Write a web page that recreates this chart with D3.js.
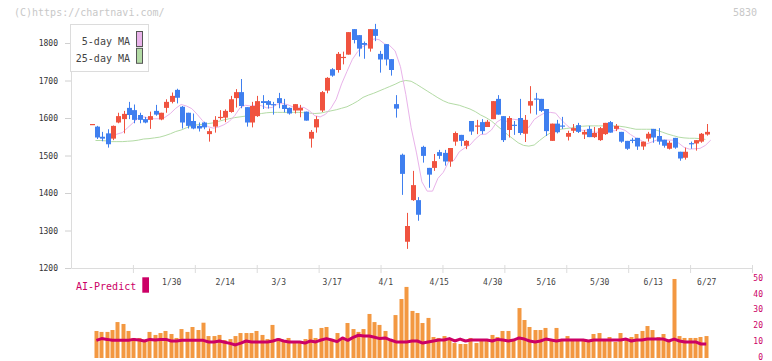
<!DOCTYPE html>
<html><head><meta charset="utf-8">
<script src="https://cdn.jsdelivr.net/npm/d3@7"></script>
<style>
body{margin:0;background:#fff}
svg{display:block}
text{font-family:"DejaVu Sans Mono","Liberation Mono",monospace}
</style>
</head><body>
<svg id="chart" width="772" height="361"></svg>
<script>
// ---- data (index 0..115 = trading days) ----
const xTickLabels = ["1/30","2/14","3/3","3/17","4/1","4/15","4/30","5/16","5/30","6/13","6/27"];
const xTickIndex  = [15,25,35,45,55,65,75,85,95,105,115];
const yTickValues = [1200,1300,1400,1500,1600,1700,1800];
const aiTickValues = [0,10,20,30,40,50];

const open = [1584,1577,1550,1559,1545,1588,1597,1627,1621,1608,1597,1595,1619,1596,1627,1643,1675,1630,1614,1592,
1579,1588,1557,1577,1601,1601,1616,1653,1669,1629,1588,1605,1645,1645,1637,1653,1635,1627,1620,1620,
1617,1545,1575,1620,1673,1730,1728,1761,1769,1837,1821,1800,1785,1837,1771,1797,1757,1637,1502,1270,
1381,1381,1523,1467,1467,1509,1507,1484,1537,1555,1526,1592,1577,1589,1576,1597,1651,1605,1568,1582,
1600,1558,1633,1652,1651,1624,1539,1585,1580,1550,1566,1581,1556,1571,1549,1541,1557,1589,1571,1563,
1539,1542,1547,1524,1545,1571,1552,1542,1518,1547,1510,1494,1533,1532,1537,1556];
const high = [1584,1579,1563,1570,1580,1614,1619,1643,1636,1614,1603,1617,1635,1614,1650,1668,1678,1632,1614,1612,
1588,1590,1572,1605,1621,1623,1659,1677,1704,1629,1643,1659,1661,1648,1643,1667,1651,1628,1637,1635,
1617,1568,1605,1672,1709,1733,1776,1777,1829,1837,1821,1804,1837,1851,1779,1797,1757,1661,1505,1347,
1459,1389,1526,1467,1504,1515,1515,1520,1564,1555,1541,1592,1595,1597,1595,1645,1661,1605,1605,1592,
1651,1608,1685,1667,1651,1624,1585,1595,1603,1566,1584,1587,1568,1579,1576,1576,1587,1592,1584,1563,
1539,1547,1547,1537,1563,1571,1573,1542,1539,1547,1510,1521,1537,1541,1560,1584];
const low = [1584,1544,1538,1521,1541,1586,1559,1597,1586,1586,1586,1571,1606,1594,1614,1639,1639,1572,1572,1570,
1564,1570,1537,1561,1595,1589,1614,1628,1626,1577,1575,1603,1624,1625,1609,1626,1615,1609,1612,1602,
1593,1521,1561,1616,1666,1710,1721,1743,1769,1799,1764,1758,1777,1805,1721,1740,1713,1601,1395,1251,
1379,1326,1481,1414,1459,1491,1473,1470,1526,1525,1517,1555,1557,1557,1576,1597,1609,1536,1548,1555,
1555,1536,1612,1609,1616,1552,1539,1559,1571,1540,1560,1560,1544,1549,1547,1539,1555,1561,1565,1534,
1515,1533,1515,1515,1537,1534,1529,1521,1516,1518,1486,1489,1518,1513,1534,1553];
const close = [1584,1548,1545,1530,1579,1605,1611,1608,1595,1595,1588,1605,1609,1614,1643,1659,1654,1588,1579,1572,
1572,1575,1565,1595,1603,1619,1650,1669,1632,1588,1632,1645,1640,1635,1634,1640,1624,1612,1637,1627,
1593,1563,1597,1669,1707,1713,1771,1763,1829,1808,1785,1795,1837,1819,1756,1756,1728,1625,1451,1312,
1421,1342,1499,1449,1485,1499,1484,1520,1560,1539,1539,1564,1580,1565,1590,1645,1609,1541,1600,1580,
1560,1595,1645,1651,1619,1565,1585,1562,1579,1560,1573,1563,1563,1549,1560,1573,1587,1561,1579,1537,
1518,1541,1524,1537,1558,1548,1537,1526,1534,1521,1492,1510,1532,1541,1558,1563];

// 5-day MA and 25-day MA (null = not drawn)
const ma5 = [null,null,null,1551,1557,1561,1574,1587,1600,1603,1599,1598,1598,1602,1612,1626,1636,1632,1625,1610,
1593,1577,1573,1576,1582,1591,1606,1627,1634,1632,1634,1633,1627,1628,1637,1639,1635,1629,1629,1628,
1619,1606,1603,1610,1626,1650,1691,1724,1756,1777,1791,1796,1811,1809,1798,1793,1779,1737,1663,1574,
1507,1430,1405,1405,1439,1455,1483,1487,1510,1520,1528,1544,1556,1557,1568,1589,1598,1590,1597,1595,
1578,1575,1596,1606,1614,1615,1613,1596,1582,1570,1572,1567,1568,1562,1562,1562,1566,1566,1572,1567,
1556,1547,1540,1531,1536,1542,1541,1541,1541,1533,1522,1517,1518,1519,1527,1541];
const ma25 = [1540,1540,1539,1537,1537,1537,1538,1539,1541,1544,1545,1547,1549,1553,1558,1564,1568,1574,1579,1582,
1583,1585,1587,1591,1595,1598,1601,1603,1605,1607,1609,1612,1614,1615,1615,1615,1615,1615,1615,1614,
1613,1612,1613,1616,1619,1622,1626,1630,1637,1645,1655,1661,1666,1672,1678,1684,1690,1697,1700,1698,
1690,1681,1672,1663,1654,1646,1640,1637,1634,1629,1624,1617,1608,1601,1592,1580,1568,1556,1545,1534,
1527,1525,1528,1540,1551,1560,1566,1570,1572,1574,1577,1578,1579,1579,1579,1579,1579,1579,1578,1576,
1573,1570,1570,1570,1570,1567,1562,1557,1553,1549,1547,1546,1546,1545,1543,null];

// AI-Predict bars and line (index 0 has none)
const aiBars = [null,17.0,16.4,16.4,17.6,22.6,21.4,17.0,12.6,12.6,11.3,16.4,14.5,15.7,17.0,15.1,12.6,18.2,16.4,19.5,
17.6,22.2,13.8,13.8,14.5,11.3,11.9,13.8,15.7,15.7,15.7,17.0,14.5,11.9,20.8,12.6,10.1,12.6,10.1,9.4,
11.9,18.2,12.6,18.9,19.5,11.3,15.7,12.6,22.0,18.2,16.4,18.2,27.7,22.6,20.8,17.0,11.3,27.0,37.1,44.7,
29.6,28.3,22.0,25.2,13.2,12.6,13.8,11.9,9.4,8.8,8.8,12.6,9.4,11.3,10.7,14.5,13.2,17.0,17.0,10.7,
31.4,23.9,19.5,17.6,17.6,18.9,11.3,18.9,11.3,13.8,11.3,11.3,11.3,10.1,15.1,15.7,11.3,13.2,10.1,15.7,
11.3,13.2,15.1,17.0,20.1,17.6,13.2,15.1,11.3,49.7,13.8,12.6,12.6,12.6,13.2,13.8];
const aiLine = [null,11.1,12.2,11.7,11.1,11.1,11.1,11.1,11.7,11.3,10.7,11.7,11.3,11.7,11.7,10.7,10.7,11.1,11.1,11.1,
11.1,11.1,10.1,10.1,10.7,9.9,9.2,8.2,9.4,10.7,10.1,10.1,10.1,10.1,10.7,11.7,10.7,10.1,10.1,10.1,
9.4,10.7,10.1,11.3,12.2,11.3,10.3,12.6,11.1,13.0,14.3,13.8,13.8,13.0,12.2,12.6,11.3,10.1,10.1,10.1,
10.7,10.7,9.4,10.1,10.7,11.3,11.3,12.2,10.7,11.9,10.7,11.3,11.3,11.3,11.3,10.7,11.7,11.3,10.7,11.3,
12.6,11.9,10.7,10.1,10.7,11.9,11.3,10.7,11.3,11.3,11.3,11.3,11.3,10.7,11.3,11.3,11.3,11.3,11.3,11.3,
11.9,10.7,11.3,11.3,11.9,11.9,11.9,11.9,10.7,11.9,10.7,10.1,10.1,10.1,8.8,8.8];

// ---- drawing ----
const svg = d3.select("#chart");
const UP = "#f0533f", DOWN = "#3f7fef";
const idx = d3.range(close.length);

const x = d3.scaleLinear().domain([0, 115]).range([91.5, 706.75]);
const y = d3.scaleLinear().domain([1200, 1850]).range([268, 24.25]);
const yAI = d3.scaleLinear().domain([0, 50]).range([358, 278.5]);
const xGrid = d3.scaleLinear().domain([0, 11]).range([71, 752]);
const maShift = 4;

// header
svg.append("text").attr("x", 14).attr("y", 15.5).attr("font-size", 10).attr("fill", "#c8c8c8")
  .text("(C)https://chartnavi.com/");
svg.append("text").attr("x", 757).attr("y", 15.5).attr("font-size", 10).attr("fill", "#c8c8c8")
  .attr("text-anchor", "end").text("5830");

// y axis
const gy = svg.append("g").attr("transform", "translate(71,0)")
  .call(d3.axisLeft(y).tickValues(yTickValues).tickSize(6).tickSizeOuter(0).tickPadding(7).tickFormat(d3.format("d")));
gy.select(".domain").attr("stroke", "#dcdcdc");
gy.selectAll(".tick line").attr("stroke", "#d0d0d0");
gy.selectAll(".tick text").attr("font-size", 8).attr("fill", "#333")
  .attr("font-family", "'DejaVu Sans Mono',monospace");

// x axis (grid ticks)
const gx = svg.append("g").attr("transform", "translate(0,268)")
  .call(d3.axisBottom(xGrid).tickValues(d3.range(1, 12)).tickSize(5).tickSizeOuter(0).tickFormat(""));
gx.select(".domain").attr("stroke", "#dcdcdc");
gx.selectAll(".tick line").attr("stroke", "#dcdcdc").attr("y1", -3);

// x labels
svg.append("g").selectAll("text").data(xTickIndex).join("text")
  .attr("x", d => x(d)).attr("y", 285).attr("text-anchor", "middle")
  .attr("font-size", 8).attr("fill", "#444").text((d, i) => xTickLabels[i]);

// moving averages
const lineGen = arr => d3.line().defined(i => arr[i] != null)
  .x(i => x(i) + maShift).y(i => y(arr[i]));
svg.append("path").attr("d", lineGen(ma25)(idx)).attr("fill", "none")
  .attr("stroke", "#b3dba5").attr("stroke-width", 1);
svg.append("path").attr("d", lineGen(ma5)(idx)).attr("fill", "none")
  .attr("stroke", "#e9b3ea").attr("stroke-width", 1);

// candles
const cg = svg.append("g");
const col = i => close[i] >= open[i] ? UP : DOWN;
cg.selectAll("line").data(idx).join("line")
  .attr("x1", i => Math.round(x(i)) + 0.5).attr("x2", i => Math.round(x(i)) + 0.5)
  .attr("y1", i => y(high[i])).attr("y2", i => y(low[i]))
  .attr("stroke", col).attr("stroke-width", 1);
cg.selectAll("rect").data(idx).join("rect")
  .attr("x", i => Math.round(x(i)) - 2).attr("width", 5)
  .attr("y", i => y(Math.max(open[i], close[i])))
  .attr("height", i => Math.max(1.2, Math.abs(y(open[i]) - y(close[i]))))
  .attr("fill", col);

// legend
const lg = svg.append("g");
lg.append("rect").attr("x", 70.5).attr("y", 24.5).attr("width", 78).attr("height", 47)
  .attr("fill", "#fff").attr("stroke", "#dcdcdc");
const legendItems = [["5-day MA", "#e9b3ea"], ["25-day MA", "#b3dba5"]];
legendItems.forEach(([label, c], k) => {
  lg.append("text").attr("x", 130).attr("y", 45 + k * 16.5).attr("text-anchor", "end")
    .attr("font-size", 10).attr("fill", "#444").text(label);
  lg.append("rect").attr("x", 136.5).attr("y", 31.5 + k * 16.8).attr("width", 6).attr("height", 15)
    .attr("fill", c).attr("stroke", "#555");
});

// AI-Predict panel
svg.append("text").attr("x", 76).attr("y", 290).attr("font-size", 10).attr("fill", "#cc0066").text("AI-Predict");
svg.append("rect").attr("x", 142.3).attr("y", 277.3).attr("width", 6.7).attr("height", 15.4).attr("fill", "#cc0066");

const ga = svg.append("g").attr("transform", "translate(763,0)")
  .call(d3.axisRight(yAI).tickValues(aiTickValues).tickSize(0).tickPadding(0));
ga.select(".domain").remove();
ga.selectAll(".tick text").attr("text-anchor", "end").attr("font-size", 8).attr("fill", "#cc0066")
  .attr("dy", "0.2em").attr("font-family", "'DejaVu Sans Mono',monospace");

svg.append("g").selectAll("rect").data(idx.filter(i => aiBars[i] != null)).join("rect")
  .attr("x", i => Math.round(x(i)) - 2.5).attr("width", 4)
  .attr("y", i => yAI(aiBars[i])).attr("height", i => yAI(0) - yAI(aiBars[i]))
  .attr("fill", "#f39841");

svg.append("path").attr("d", d3.line().defined(i => aiLine[i] != null)
    .x(i => x(i) - 0.5).y(i => yAI(aiLine[i]))(idx))
  .attr("fill", "none").attr("stroke", "#cc0066").attr("stroke-width", 3).attr("stroke-linejoin", "round");
</script>
</body></html>
